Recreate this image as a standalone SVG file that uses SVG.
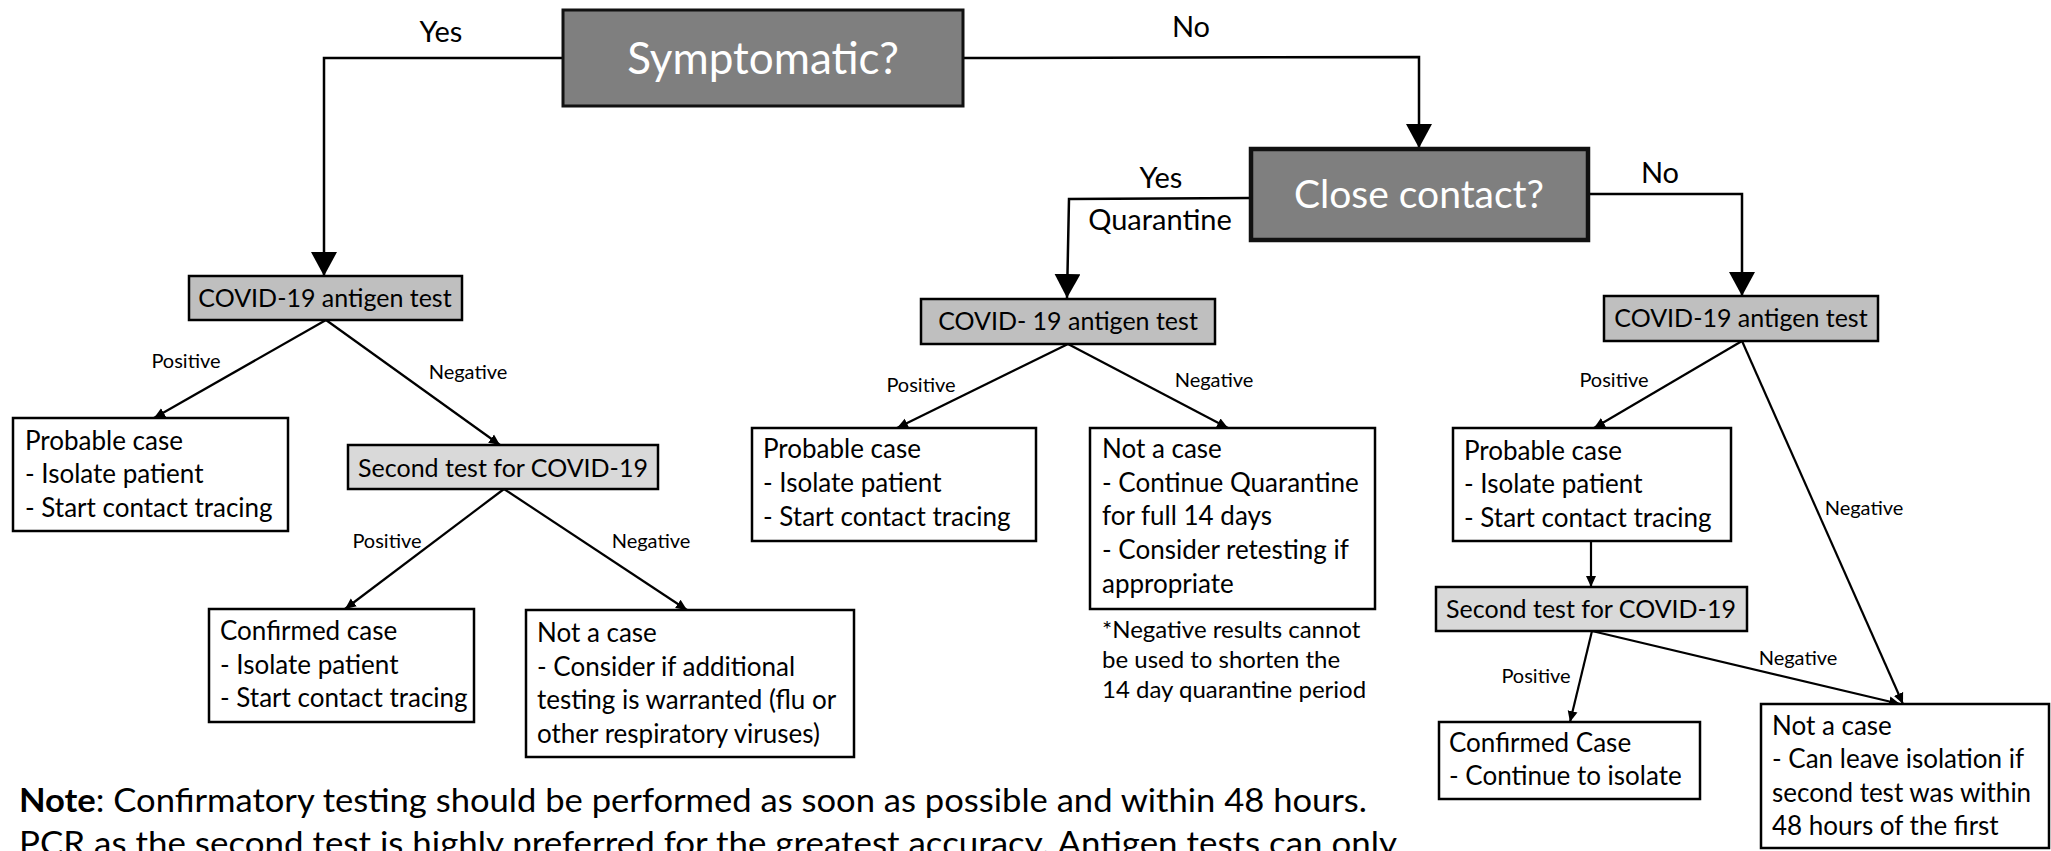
<svg xmlns="http://www.w3.org/2000/svg" width="2051" height="851" viewBox="0 0 2051 851">
<style>
text{font-family:Lato,"Liberation Sans",sans-serif;fill:#000}
.box{fill:#fff;stroke:#000;stroke-width:2.5}
.ag{fill:#bfbfbf;stroke:#000;stroke-width:2.5}
.st{fill:#d9d9d9;stroke:#000;stroke-width:2.5}
.q{fill:#7f7f7f;stroke:#111}
.qt{fill:#fff;font-size:44px;text-anchor:middle}
.qt2{fill:#fff;font-size:39px;text-anchor:middle}
.body{font-size:26px}
.lab{font-size:25px;text-anchor:middle}
.yn{font-size:29px;text-anchor:middle}
.pn{font-size:20px;text-anchor:middle}
.fn{font-size:24px}
.note{font-size:33px}
.main{fill:none;stroke:#000;stroke-width:2.5;marker-end:url(#big)}
.tree{fill:none;stroke:#000;stroke-width:2.2;marker-end:url(#sm)}
</style>
<defs>
<marker id="big" markerUnits="userSpaceOnUse" markerWidth="26" markerHeight="26" refX="24" refY="13" orient="auto" viewBox="0 0 26 26"><path d="M0,0 L24,13 L0,26 z" fill="#000"/></marker>
<marker id="sm" markerUnits="userSpaceOnUse" markerWidth="12" markerHeight="12" refX="11" refY="6" orient="auto" viewBox="0 0 12 12"><path d="M0,1 L11,6 L0,11 z" fill="#000"/></marker>
</defs>
<rect width="2051" height="851" fill="#fff"/>

<g id="connectors">
<polyline class="main" points="563,58 324,58 324,276"/>
<polyline class="main" points="963,58 1419,57 1419,148"/>
<polyline class="main" points="1251,198 1069,199 1067,298"/>
<polyline class="main" points="1588,194 1742,194 1742,296"/>
<line class="tree" x1="326" y1="320" x2="154" y2="418"/>
<line class="tree" x1="326" y1="320" x2="500" y2="445"/>
<line class="tree" x1="504" y1="489" x2="345" y2="609"/>
<line class="tree" x1="504" y1="489" x2="687" y2="610"/>
<line class="tree" x1="1068" y1="344" x2="897" y2="428"/>
<line class="tree" x1="1068" y1="344" x2="1228" y2="428"/>
<line class="tree" x1="1742" y1="341" x2="1594" y2="428"/>
<line class="tree" x1="1742" y1="341" x2="1903" y2="704"/>
<line class="tree" x1="1591" y1="541" x2="1591" y2="587"/>
<line class="tree" x1="1592" y1="631" x2="1570" y2="722"/>
<line class="tree" x1="1592" y1="631" x2="1900" y2="704"/>
<text class="yn" x="441" y="42">Yes</text>
<text class="yn" x="1191" y="37">No</text>
<text class="yn" x="1161" y="188">Yes</text>
<text class="yn" x="1160" y="230">Quarantine</text>
<text class="yn" x="1660" y="183">No</text>
<text class="pn" x="186" y="368">Positive</text>
<text class="pn" x="468" y="379">Negative</text>
<text class="pn" x="387" y="548">Positive</text>
<text class="pn" x="651" y="548">Negative</text>
<text class="pn" x="921" y="392">Positive</text>
<text class="pn" x="1214" y="387">Negative</text>
<text class="pn" x="1614" y="387">Positive</text>
<text class="pn" x="1864" y="515">Negative</text>
<text class="pn" x="1536" y="683">Positive</text>
<text class="pn" x="1798" y="665">Negative</text>
</g>

<g id="symptomatic">
<rect class="q" x="563" y="10" width="400" height="96" stroke-width="3"/>
<text class="qt" x="763" y="74">Symptomatic?</text>
</g>
<g id="close-contact">
<rect class="q" x="1251" y="149" width="337" height="91" stroke-width="4.5" stroke="#000"/>
<text class="qt2" x="1419" y="208">Close contact?</text>
</g>

<g id="antigen-left">
<rect class="ag" x="189" y="276" width="273" height="44"/>
<text class="lab" x="325" y="307">COVID-19 antigen test</text>
</g>
<g id="probable-left">
<rect class="box" x="13" y="418" width="275" height="113"/>
<text class="body" x="25" y="450">Probable case</text>
<text class="body" x="25" y="483">- Isolate patient</text>
<text class="body" x="25" y="517">- Start contact tracing</text>
</g>
<g id="second-left">
<rect class="st" x="348" y="445" width="310" height="44"/>
<text class="lab" x="503" y="477">Second test for COVID-19</text>
</g>
<g id="confirmed-left">
<rect class="box" x="209" y="609" width="265" height="113"/>
<text class="body" x="220" y="640">Confirmed case</text>
<text class="body" x="220" y="674">- Isolate patient</text>
<text class="body" x="220" y="707">- Start contact tracing</text>
</g>
<g id="notacase-left">
<rect class="box" x="526" y="610" width="328" height="147"/>
<text class="body" x="537" y="642">Not a case</text>
<text class="body" x="537" y="676">- Consider if additional</text>
<text class="body" x="537" y="709">testing is warranted (flu or</text>
<text class="body" x="537" y="743">other respiratory viruses)</text>
</g>

<g id="antigen-mid">
<rect class="ag" x="921" y="299" width="294" height="45"/>
<text class="lab" x="1068" y="330">COVID- 19 antigen test</text>
</g>
<g id="probable-mid">
<rect class="box" x="752" y="428" width="284" height="113"/>
<text class="body" x="763" y="458">Probable case</text>
<text class="body" x="763" y="492">- Isolate patient</text>
<text class="body" x="763" y="526">- Start contact tracing</text>
</g>
<g id="notacase-mid">
<rect class="box" x="1090" y="428" width="285" height="181"/>
<text class="body" x="1102" y="458">Not a case</text>
<text class="body" x="1102" y="492">- Continue Quarantine</text>
<text class="body" x="1102" y="525">for full 14 days</text>
<text class="body" x="1102" y="559">- Consider retesting if</text>
<text class="body" x="1102" y="593">appropriate</text>
</g>
<g id="footnote-mid">
<text class="fn" x="1102" y="638">*Negative results cannot</text>
<text class="fn" x="1102" y="668">be used to shorten the</text>
<text class="fn" x="1102" y="698">14 day quarantine period</text>
</g>

<g id="antigen-right">
<rect class="ag" x="1604" y="296" width="274" height="45"/>
<text class="lab" x="1741" y="327">COVID-19 antigen test</text>
</g>
<g id="probable-right">
<rect class="box" x="1453" y="428" width="278" height="113"/>
<text class="body" x="1464" y="460">Probable case</text>
<text class="body" x="1464" y="493">- Isolate patient</text>
<text class="body" x="1464" y="527">- Start contact tracing</text>
</g>
<g id="second-right">
<rect class="st" x="1436" y="587" width="311" height="44"/>
<text class="lab" x="1591" y="618">Second test for COVID-19</text>
</g>
<g id="confirmed-right">
<rect class="box" x="1439" y="722" width="261" height="77"/>
<text class="body" x="1449" y="752">Confirmed Case</text>
<text class="body" x="1449" y="785">- Continue to isolate</text>
</g>
<g id="notacase-right">
<rect class="box" x="1761" y="704" width="288" height="144"/>
<text class="body" x="1772" y="735">Not a case</text>
<text class="body" x="1772" y="768">- Can leave isolation if</text>
<text class="body" x="1772" y="802">second test was within</text>
<text class="body" x="1772" y="835">48 hours of the first</text>
</g>

<g id="note">
<text class="note" x="19" y="812" textLength="1348" lengthAdjust="spacingAndGlyphs"><tspan font-weight="bold">Note</tspan>: Confirmatory testing should be performed as soon as possible and within 48 hours.</text>
<text class="note" x="19" y="855" textLength="1378" lengthAdjust="spacingAndGlyphs">PCR as the second test is highly preferred for the greatest accuracy. Antigen tests can only</text>
</g>
</svg>
